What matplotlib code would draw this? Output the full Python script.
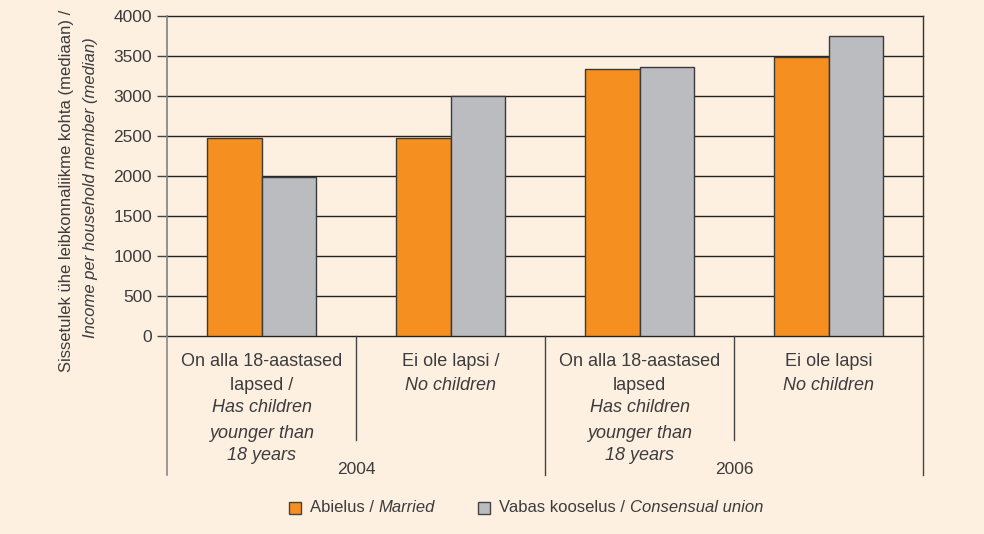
import matplotlib
matplotlib.use("Agg")
import matplotlib.pyplot as plt
from matplotlib.lines import Line2D
from matplotlib.patches import Rectangle
from matplotlib.transforms import blended_transform_factory
import numpy as np

# ---- data ----
categories = [
    [("On alla 18-aastased", "normal"), ("lapsed /", "normal"), ("Has children", "italic"),
     ("younger than", "italic"), ("18 years", "italic")],
    [("Ei ole lapsi /", "normal"), ("No children", "italic")],
    [("On alla 18-aastased", "normal"), ("lapsed", "normal"), ("Has children", "italic"),
     ("younger than", "italic"), ("18 years", "italic")],
    [("Ei ole lapsi", "normal"), ("No children", "italic")],
]
years = ["2004", "2006"]
married = [2480, 2480, 3335, 3485]
consensual = [1990, 3000, 3360, 3755]
yticks = [0, 500, 1000, 1500, 2000, 2500, 3000, 3500, 4000]

BG = "#fdf0e1"
ORANGE = "#f58f1f"
GREY = "#bbbcc0"
TXT = "#3c3c3c"
FONT = "Liberation Sans"
FS_TICK = 12.5
FS_CAT = 13
FS_YL = 12
FS_LEG = 12
FS_YEAR = 12.5

plt.rcParams["font.family"] = [FONT, "DejaVu Sans"]

W, H = 984, 534
fig = plt.figure(figsize=(W / 100, H / 100), dpi=100, facecolor=BG)

def fx(x):
    return x / W

def fy(y):
    return 1 - y / H

ax_l, ax_r, ax_t, ax_b = 167, 923, 16, 336
ax = fig.add_axes([fx(ax_l), fy(ax_b), fx(ax_r - ax_l), (ax_b - ax_t) / H])
ax.set_facecolor(BG)

n = len(married)
x = np.arange(n) + 0.5
bw = 0.29
ax.bar(x - bw / 2, married, bw, color=ORANGE, edgecolor="#3a3a3a", linewidth=1.0, zorder=3)
ax.bar(x + bw / 2, consensual, bw, color=GREY, edgecolor="#3a3a3a", linewidth=1.0, zorder=3)

ax.set_xlim(0, n)
ax.set_ylim(0, 4000)
ax.set_yticks(yticks)
ax.set_yticklabels([str(v) for v in yticks], fontsize=FS_TICK, color=TXT)
ax.tick_params(axis="y", length=7.2, width=1, color="#444444", pad=3.6)
ax.set_xticks([])
ax.yaxis.grid(True, color="#222222", linewidth=1.0, zorder=0)
for gl in ax.get_ygridlines():
    gl.set_clip_on(False)
ax.set_axisbelow(True)
for s in ["top", "bottom"]:
    ax.spines[s].set_visible(False)
ax.spines["left"].set_color("#808080")
ax.spines["left"].set_linewidth(1.2)
ax.spines["right"].set_color("#333333")
ax.spines["right"].set_linewidth(1.0)

# divider lines below the axis
tr = blended_transform_factory(ax.transData, fig.transFigure)
for i in range(n + 1):
    bottom = 475 if i % 2 == 0 else 440
    col = "#808080" if i == 0 else "#444444"
    fig.add_artist(Line2D([i, i], [fy(ax_b), fy(bottom)], transform=tr,
                          color=col, linewidth=1.1 if i == 0 else 1.0))

# category labels
line_y = [362, 385, 408, 433, 455]
for i, lines in enumerate(categories):
    for j, (txt, st) in enumerate(lines):
        fig.text(x[i], fy(line_y[j]), txt, transform=tr, ha="center", va="center",
                 fontsize=FS_CAT, color=TXT, style=st)

for k, yr in enumerate(years):
    fig.text(2 * k + 1, fy(469), yr, transform=tr, ha="center", va="center",
             fontsize=FS_YEAR, color=TXT)

# y label
fig.text(fx(67), fy(191), "Sissetulek ühe leibkonnaliikme kohta (mediaan) /", rotation=90,
         ha="center", va="center", fontsize=FS_YL, color=TXT)
fig.text(fx(91), fy(188), "Income per household member (median)", rotation=90,
         ha="center", va="center", fontsize=FS_YL, color=TXT, style="italic")

# legend
leg_y = 508
legend_items = [(289, ORANGE, "Abielus / ", "Married"),
                (478, GREY, "Vabas kooselus / ", "Consensual union")]
for lx, col, norm, ital in legend_items:
    fig.add_artist(Rectangle((fx(lx), fy(leg_y + 6)), fx(12), 12 / H,
                             transform=fig.transFigure, facecolor=col,
                             edgecolor="#444444", linewidth=1.0))
    t1 = fig.text(fx(lx + 21), fy(leg_y), norm, ha="left", va="center",
                  fontsize=FS_LEG, color=TXT)
    ax.annotate(ital, xy=(1, 0.5), xycoords=t1, ha="left", va="center",
                fontsize=FS_LEG, color=TXT, style="italic", annotation_clip=False)

fig.savefig("out.png", dpi=100, facecolor=BG)
